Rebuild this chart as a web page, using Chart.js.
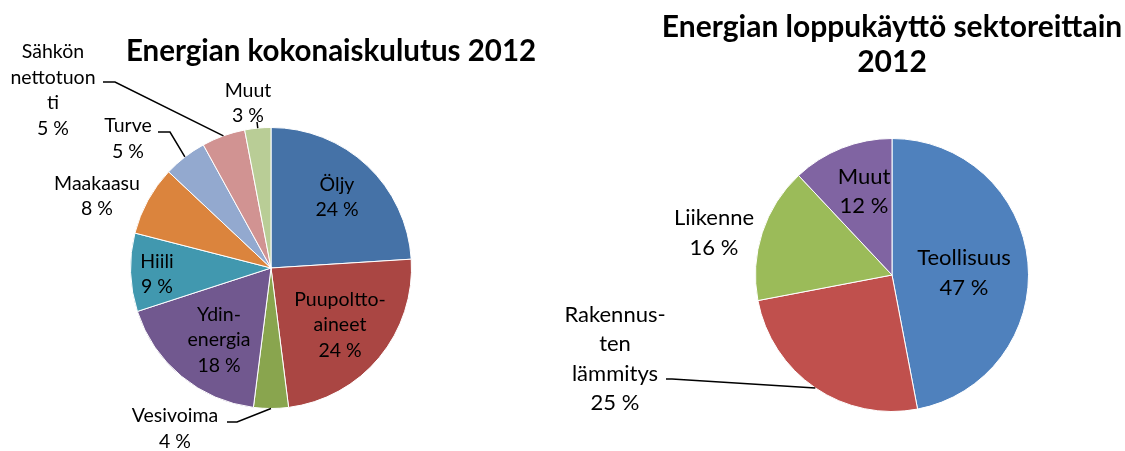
<!DOCTYPE html>
<html>
<head>
<meta charset="utf-8">
<script src="https://cdn.jsdelivr.net/npm/chart.js@4.4.0/dist/chart.umd.min.js"></script>
<style>
  html, body { margin: 0; padding: 0; background: #fff; }
  #wrap { position: relative; width: 1125px; height: 451px; overflow: hidden; }
  #c1 { position: absolute; left: 0; top: 0; }
  #c2 { position: absolute; left: 560px; top: 0; }
</style>
</head>
<body>
<div id="wrap">
  <canvas id="c1" width="560" height="451"></canvas>
  <canvas id="c2" width="565" height="451"></canvas>
</div>
<script>
// Energian kokonaiskulutus 2012 (%)
var labels1 = ['Öljy', 'Puupolttoaineet', 'Vesivoima', 'Ydinenergia', 'Hiili', 'Maakaasu', 'Turve', 'Sähkön nettotuonti', 'Muut'];
var values1 = [24, 24, 4, 18, 9, 8, 5, 5, 3];
var colors1 = ['#4572A7', '#AA4643', '#89A54E', '#71588F', '#4198AF', '#DB843D', '#93A9CF', '#D19392', '#B9CD96'];
var text1 = [['Öljy'], ['Puupoltto-', 'aineet'], ['Vesivoima'], ['Ydin-', 'energia'], ['Hiili'], ['Maakaasu'], ['Turve'], ['Sähkön', 'nettotuon', 'ti'], ['Muut']];

// Energian loppukäyttö sektoreittain 2012 (%)
var labels2 = ['Teollisuus', 'Rakennusten lämmitys', 'Liikenne', 'Muut'];
var values2 = [47, 25, 16, 12];
var colors2 = ['#4F81BD', '#C0504D', '#9BBB59', '#8064A2'];
var text2 = [['Teollisuus'], ['Rakennus-', 'ten', 'lämmitys'], ['Liikenne'], ['Muut']];

// label spots, px from the pie centre; leader = elbow points, last point goes to the slice edge
var place1 = [
  { dx: 66, dy: -71 },
  { dx: 69, dy: 57 },
  { dx: -96, dy: 160.5, leader: [[-44, 154], [-34, 154]] },
  { dx: -52, dy: 72 },
  { dx: -114, dy: 6 },
  { dx: -174, dy: -72 },
  { dx: -143, dy: -129.5, leader: [[-113, -136], [-101, -136]] },
  { dx: -218, dy: -178, leader: [[-168, -186], [-156, -186]] },
  { dx: -23, dy: -165, leader: [[-14, -146]] }
];
var place2 = [
  { dx: 72, dy: -2 },
  { dx: -277, dy: 84, leader: [[-226, 104], [-220, 104]] },
  { dx: -178, dy: -42 },
  { dx: -28, dy: -83.5 }
];

function pieLabels(texts, place, lineH, font) {
  return {
    id: 'pieLabels',
    afterDatasetsDraw: function(chart) {
      var ctx = chart.ctx;
      var meta = chart.getDatasetMeta(0);
      var vals = chart.data.datasets[0].data;
      ctx.save();
      ctx.font = font;
      ctx.fillStyle = '#000';
      ctx.textAlign = 'center';
      ctx.textBaseline = 'middle';
      ctx.strokeStyle = '#000';
      ctx.lineWidth = 1.5;
      meta.data.forEach(function(arc, i) {
        var p = arc.getProps(['x', 'y', 'startAngle', 'endAngle', 'outerRadius'], true);
        var mid = (p.startAngle + p.endAngle) / 2;
        var pl = place[i];
        var lines = texts[i].concat([vals[i] + ' %']);
        var y0 = p.y + pl.dy - (lines.length - 1) * lineH / 2;
        lines.forEach(function(t, k) {
          ctx.fillText(t, p.x + pl.dx, y0 + k * lineH);
        });
        if (pl.leader) {
          ctx.beginPath();
          pl.leader.forEach(function(q, k) {
            if (k == 0) ctx.moveTo(p.x + q[0], p.y + q[1]);
            else ctx.lineTo(p.x + q[0], p.y + q[1]);
          });
          ctx.lineTo(p.x + Math.cos(mid) * p.outerRadius, p.y + Math.sin(mid) * p.outerRadius);
          ctx.stroke();
        }
      });
      ctx.restore();
    }
  };
}

function titleLines(lines, x, ys, font) {
  return {
    id: 'titleLines',
    afterDraw: function(chart) {
      var ctx = chart.ctx;
      ctx.save();
      ctx.font = font;
      ctx.fillStyle = '#000';
      ctx.textAlign = 'center';
      ctx.textBaseline = 'middle';
      lines.forEach(function(t, k) { ctx.fillText(t, x, ys[k]); });
      ctx.restore();
    }
  };
}

var baseOptions = function(pad) {
  return {
    responsive: false,
    animation: false,
    layout: { padding: pad },
    plugins: { legend: { display: false }, tooltip: { enabled: false } }
  };
};

var chart1 = new Chart(document.getElementById('c1').getContext('2d'), {
  type: 'pie',
  data: {
    labels: labels1,
    datasets: [{ data: values1, backgroundColor: colors1, borderColor: '#fff', borderWidth: 1 }]
  },
  options: baseOptions({ left: 130, right: 148, top: 127, bottom: 42 }),
  plugins: [
    pieLabels(text1, place1, 25.5, '19.5px Lato'),
    titleLines(['Energian kokonaiskulutus 2012'], 331, [51], 'bold 29.5px Lato')
  ]
});

var chart2 = new Chart(document.getElementById('c2').getContext('2d'), {
  type: 'pie',
  data: {
    labels: labels2,
    datasets: [{ data: values2, backgroundColor: colors2, borderColor: '#fff', borderWidth: 1 }]
  },
  options: baseOptions({ left: 195, right: 96, top: 138, bottom: 39 }),
  plugins: [
    pieLabels(text2, place2, 29.5, '22px Lato'),
    titleLines(['Energian loppukäyttö sektoreittain', '2012'], 332, [27, 62], 'bold 30px Lato')
  ]
});
</script>
</body>
</html>
